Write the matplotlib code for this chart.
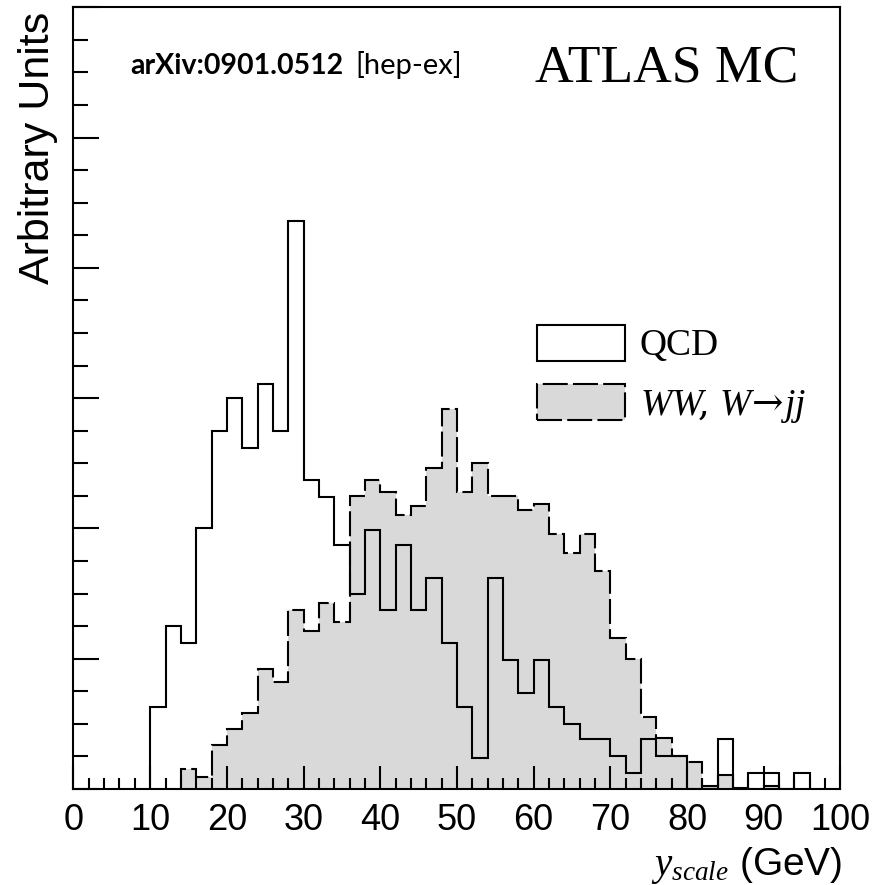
import matplotlib
matplotlib.use('Agg')
import matplotlib.pyplot as plt
from matplotlib.patches import Patch
from matplotlib.ticker import MultipleLocator

plt.rcParams['font.family'] = 'Liberation Sans'
plt.rcParams['mathtext.fontset'] = 'custom'
plt.rcParams['mathtext.it'] = 'Liberation Serif:italic'
plt.rcParams['mathtext.rm'] = 'DejaVu Serif'

# QCD background, 2 GeV bins from 10 to 96 GeV
qcd_edges = [10, 12, 14, 16, 18, 20, 22, 24, 26, 28, 30, 32, 34, 36, 38,
             40, 42, 44, 46, 48, 50, 52, 54, 56, 58, 60, 62, 64, 66, 68,
             70, 72, 74, 76, 78, 80, 82, 84, 86, 88, 90, 92, 94, 96]
qcd_vals = [0.63, 1.25, 1.12, 2.00, 2.75, 3.00, 2.62, 3.11, 2.75, 4.36,
            2.37, 2.24, 1.87, 1.50, 1.99, 1.37, 1.87, 1.37, 1.62, 1.12,
            0.63, 0.24, 1.62, 0.99, 0.74, 0.99, 0.63, 0.50, 0.38, 0.38,
            0.25, 0.12, 0.38, 0.25, 0.25, 0.00, 0.00, 0.38, 0.00, 0.12,
            0.12, 0.00, 0.12]

# WW, W->jj signal, 2 GeV bins from 14 to 92 GeV
ww_edges = [14, 16, 18, 20, 22, 24, 26, 28, 30, 32, 34, 36, 38, 40, 42,
            44, 46, 48, 50, 52, 54, 56, 58, 60, 62, 64, 66, 68, 70, 72,
            74, 76, 78, 80, 82, 84, 86, 88, 90, 92]
ww_vals = [0.15, 0.09, 0.34, 0.46, 0.58, 0.92, 0.82, 1.37, 1.21, 1.43,
           1.28, 2.25, 2.37, 2.28, 2.10, 2.17, 2.46, 2.92, 2.28, 2.50,
           2.25, 2.25, 2.14, 2.19, 1.96, 1.81, 1.96, 1.67, 1.16, 1.00,
           0.55, 0.39, 0.25, 0.21, 0.02, 0.11, 0.01, 0.00, 0.02]

x_ticks = [0, 10, 20, 30, 40, 50, 60, 70, 80, 90, 100]

fill_grey = '#d9d9d9'
dash = (0, (12, 2.5))
lw = 1.5

fig = plt.figure(figsize=(8.83, 8.85), dpi=100)
ax = fig.add_axes([0.0832, 0.1085, 0.8686, 0.8833])

ax.stairs(ww_vals, ww_edges, fill=True, facecolor=fill_grey, linewidth=0)
ax.stairs(ww_vals, ww_edges, color='black', linestyle=dash, linewidth=lw)
ax.stairs(qcd_vals, qcd_edges, color='black', linewidth=lw)

ax.set_xlim(0, 100)
ax.set_ylim(0, 6)
ax.set_xticks(x_ticks)
ax.set_xticklabels([str(t) for t in x_ticks], fontsize=26)
ax.xaxis.set_minor_locator(MultipleLocator(2))
ax.yaxis.set_major_locator(MultipleLocator(1))
ax.yaxis.set_minor_locator(MultipleLocator(0.25))
ax.tick_params(axis='y', labelleft=False)
ax.tick_params(which='both', direction='in', top=False, right=False, width=lw)
ax.tick_params(axis='x', which='major', length=16.5, pad=10)
ax.tick_params(axis='x', which='minor', length=8)
ax.tick_params(axis='y', which='major', length=19)
ax.tick_params(axis='y', which='minor', length=11)
for s in ax.spines.values():
    s.set_linewidth(lw)

handles = [Patch(facecolor='white', edgecolor='black', linewidth=lw, label='QCD'),
           Patch(facecolor=fill_grey, edgecolor='black', linewidth=lw,
                 linestyle=dash, label=r'$WW\!,\,W\!\rightarrow\!jj$')]
ax.legend(handles=handles, loc='upper left', bbox_to_anchor=(0.604, 0.594),
          frameon=False, borderaxespad=0, borderpad=0,
          prop={'family': 'Liberation Serif', 'size': 27},
          handlelength=2.35, handleheight=1.1, handletextpad=0.4,
          labelspacing=0.55)

ax.text(0.945, 0.905, 'ATLAS MC', transform=ax.transAxes, ha='right',
        va='baseline', family='Liberation Serif', fontsize=38.5)
ax.text(0.074, 0.914, 'arXiv:0901.0512', transform=ax.transAxes, ha='left',
        va='baseline', family='Lato', fontweight='bold', fontsize=20.5)
ax.text(0.367, 0.914, '[hep-ex]', transform=ax.transAxes, ha='left',
        va='baseline', family='Lato', fontsize=21)

fig.text(38 / 883, 1 - 148 / 885, 'Arbitrary Units', rotation=90,
         ha='center', va='center', fontsize=31)
fig.text(842 / 883, 1 - 866 / 885, r'$y_{scale}$ (GeV)', ha='right',
         va='center', fontsize=28)

fig.savefig('out.png', dpi=100)
